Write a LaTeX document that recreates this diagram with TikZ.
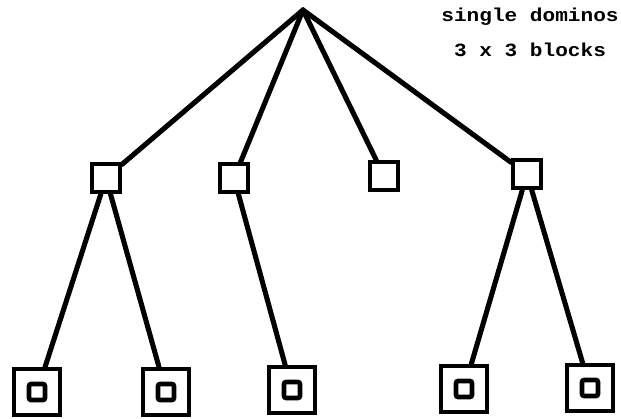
\documentclass[tikz,border=0pt]{standalone}
\usepackage{xcolor}
\usepackage{fontspec}
\setmonofont{Liberation Mono}
\usepackage{tikz}

\tikzset{
    mid/.style={draw, line width=3pt, minimum size=21pt, inner sep=0pt},
    leaf/.style={draw, line width=3pt, minimum size=34.5pt, inner sep=0pt,
        path picture={\draw[line width=3.4pt, rounded corners=1.5pt]
            ([shift={(-6pt,-6pt)}]path picture bounding box.center)
            rectangle ++(12pt,12pt);}},
    edge/.style={line width=3.8pt, line cap=round},
    lbl/.style={font=\fontsize{14pt}{16pt}\ttfamily\bfseries}
}

\begin{document}
\begin{tikzpicture}[x=0.75pt, y=-0.75pt]
            \useasboundingbox (0, 0) rectangle (621, 418);

            \coordinate (root) at (303, 10);
            \node[mid] (s1) at (106, 178) {};
            \node[mid] (s2) at (234, 178) {};
            \node[mid] (s3) at (384, 176) {};
            \node[mid] (s4) at (527, 174) {};

            \node[leaf] (b1) at (37, 392) {};
            \node[leaf] (b2) at (166, 392) {};
            \node[leaf] (b3) at (292, 390) {};
            \node[leaf] (b4) at (464, 389) {};
            \node[leaf] (b5) at (590, 388) {};

            \node[lbl] (dom) at (530, 17) {\scalebox{1.13}[1]{single dominos}};
            \node[lbl] (blk) at (530, 50) {\scalebox{1.13}[1]{3 x 3 blocks}};

            \draw[edge] (root) -- (s1); % root-s1
            \draw[edge] (root) -- (s2); % root-s2
            \draw[edge] (root) -- (s3); % root-s3
            \draw[edge] (root) -- (s4); % root-s4
            \draw[edge] (s1) -- (b1); % s1-b1
            \draw[edge] (s1) -- (b2); % s1-b2
            \draw[edge] (s2) -- (b3); % s2-b3
            \draw[edge] (s4) -- (b4); % s4-b4
            \draw[edge] (s4) -- (b5); % s4-b5
        \end{tikzpicture}
\end{document}
